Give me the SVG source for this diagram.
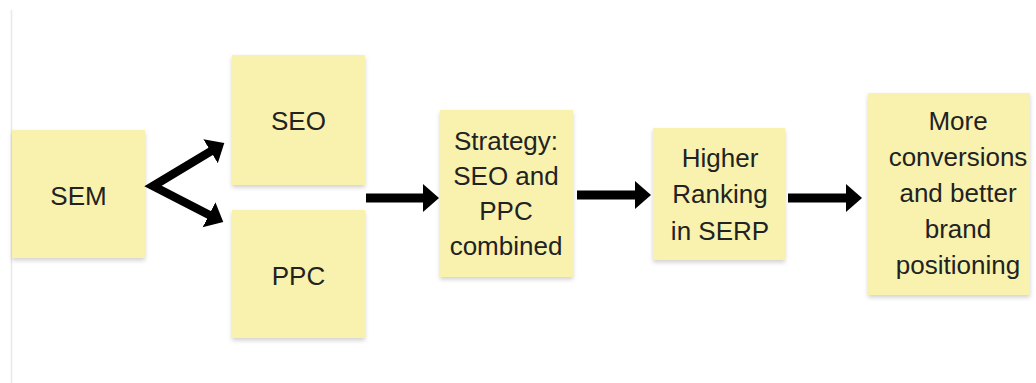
<svg xmlns="http://www.w3.org/2000/svg" width="1036" height="383" viewBox="0 0 1036 383">
  <defs>
    <filter id="sh" x="-10%" y="-10%" width="120%" height="125%">
      <feDropShadow dx="0" dy="2.5" stdDeviation="2" flood-color="#000" flood-opacity="0.18"/>
    </filter>
    <marker id="ah" markerUnits="userSpaceOnUse" markerWidth="20" markerHeight="32" refX="2" refY="14" orient="auto-start-reverse" viewBox="0 0 20 28">
      <path d="M0,0 L16,14 L0,28 Z" fill="#000"/>
    </marker>
    <style>
      .note { fill: #f8f2ae; filter: url(#sh); }
      .lbl { font-family: "Liberation Sans", Arial, sans-serif; font-size: 26px; fill: #222222; text-anchor: middle; }
      .arr { fill: none; stroke: #000; stroke-width: 9; marker-end: url(#ah); }
    </style>
  </defs>
  <rect width="1036" height="383" fill="#ffffff"/>
  <line x1="11.5" y1="10" x2="11.5" y2="383" stroke="#e8e8e8" stroke-width="1.5"/>

  <g id="sem">
    <rect class="note" x="12" y="130" width="133" height="128"/>
    <text class="lbl" x="78.5" y="205">SEM</text>
  </g>
  <g id="seo">
    <rect class="note" x="232" y="55" width="133" height="130"/>
    <text class="lbl" x="298.5" y="130">SEO</text>
  </g>
  <g id="ppc">
    <rect class="note" x="232" y="210" width="133" height="128"/>
    <text class="lbl" x="298.5" y="285">PPC</text>
  </g>
  <g id="strategy">
    <rect class="note" x="440" y="110" width="133" height="167"/>
    <text class="lbl" x="506" y="150">Strategy:</text>
    <text class="lbl" x="506" y="185">SEO and</text>
    <text class="lbl" x="506" y="220">PPC</text>
    <text class="lbl" x="506" y="255">combined</text>
  </g>
  <g id="ranking">
    <rect class="note" x="653" y="128" width="132" height="132"/>
    <text class="lbl" x="720" y="167">Higher</text>
    <text class="lbl" x="720" y="203">Ranking</text>
    <text class="lbl" x="720" y="240">in SERP</text>
  </g>
  <g id="conversions">
    <rect class="note" x="868" y="93" width="162" height="202"/>
    <text class="lbl" x="958" y="130">More</text>
    <text class="lbl" x="958" y="166">conversions</text>
    <text class="lbl" x="958" y="202">and better</text>
    <text class="lbl" x="958" y="238">brand</text>
    <text class="lbl" x="958" y="274">positioning</text>
  </g>

  <g id="connectors">
    <path d="M212.3,150.3 L153,186 L210.8,215.7" fill="none" stroke="#000" stroke-width="8.5" stroke-linejoin="miter" marker-start="url(#ah)" marker-end="url(#ah)"/>
    <path class="arr" d="M366,198 L425,198"/>
    <path class="arr" d="M577,195 L637,195"/>
    <path class="arr" d="M788,198 L848,198"/>
  </g>
</svg>
